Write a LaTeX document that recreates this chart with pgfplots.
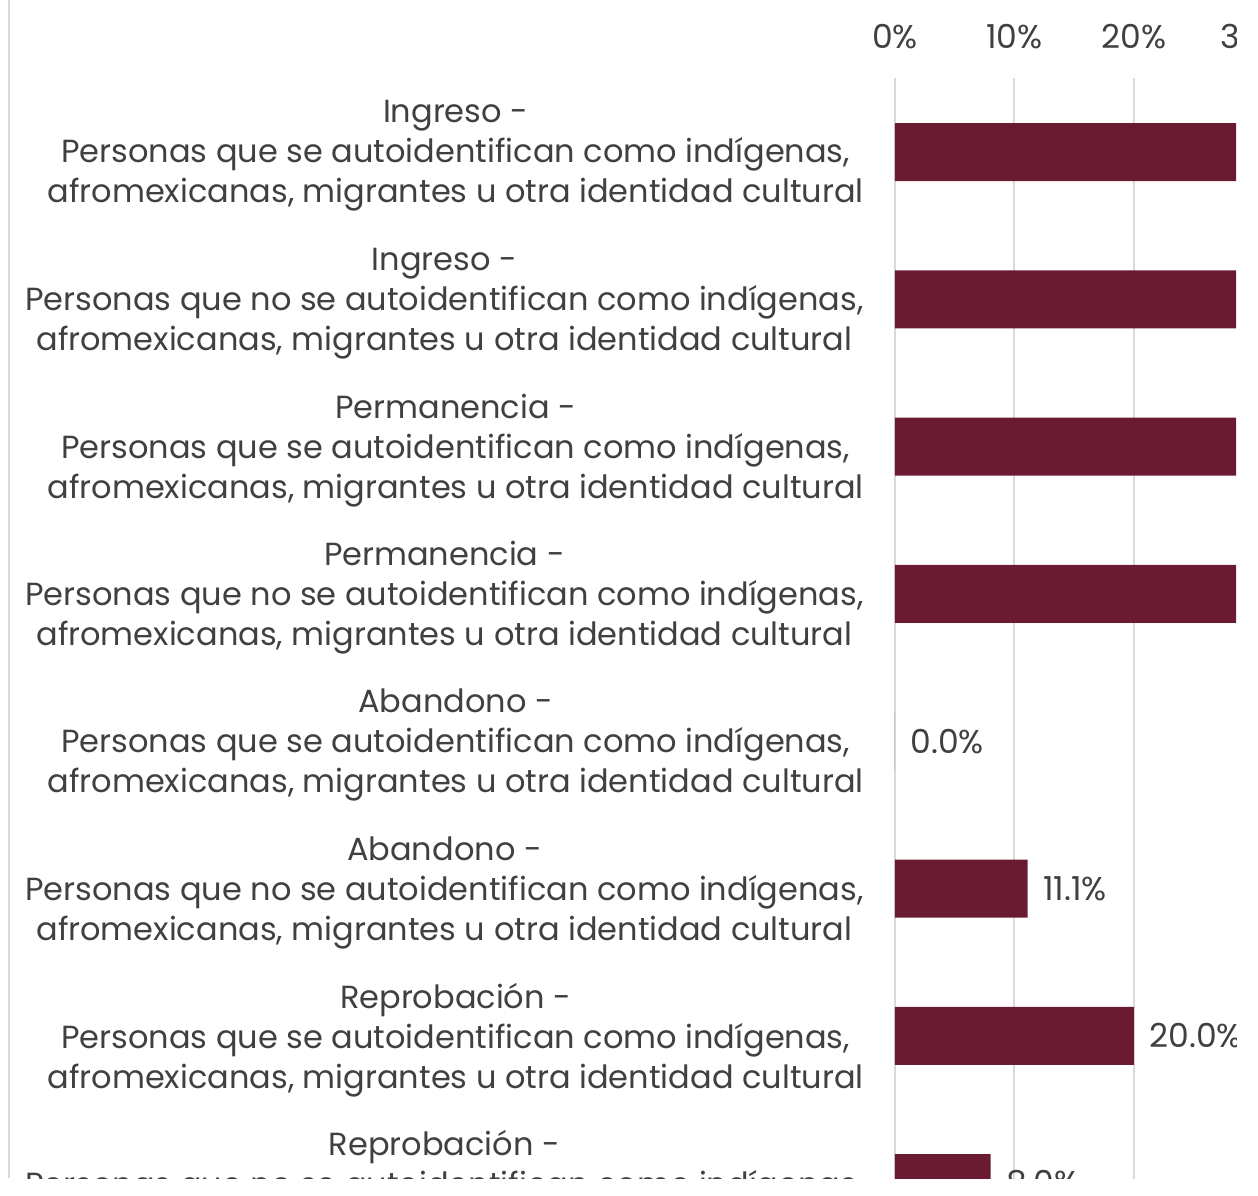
\documentclass[border=0pt]{standalone}
\usepackage{fontspec}
\setmainfont{Poppins}
\usepackage{pgfplots}
\pgfplotsset{compat=1.18}
\definecolor{barcol}{HTML}{6A1B32}
\definecolor{txt}{HTML}{404040}
\definecolor{gridc}{HTML}{D9D9D9}

\begin{document}
\begin{tikzpicture}
\useasboundingbox (0,0) rectangle (629pt,597.5pt);
\clip (0,8.5pt) rectangle (618pt,597.5pt);
\draw[gridc, line width=1.2pt] (4.5pt,8.5pt) -- (4.5pt,597.5pt);
\begin{axis}[
  at={(447.5pt,558.3pt)}, anchor=north west,
  scale only axis, width=179.25pt, height=589.2pt,
  xbar, bar width=29pt,
  xmin=0, xmax=30, ymin=-0.5, ymax=7.5,
  y dir=reverse,
  axis line style={draw=none},
  major tick length=0pt,
  xtick={0,10,20,30},
  xticklabel pos=upper,
  xticklabel={\pgfmathprintnumber{\tick}\%},
  xticklabel style={font=\fontsize{16.5}{19}\selectfont, text=txt, yshift=11pt},
  xmajorgrids, grid style={gridc, line width=1pt},
  ytick={0,...,7},
  yticklabels={
    {Ingreso -\\Personas que se autoidentifican como indígenas,\\afromexicanas, migrantes u otra identidad cultural},
    {Ingreso -\\Personas que no se autoidentifican como indígenas,\\afromexicanas, migrantes u otra identidad cultural},
    {Permanencia -\\Personas que se autoidentifican como indígenas,\\afromexicanas, migrantes u otra identidad cultural},
    {Permanencia -\\Personas que no se autoidentifican como indígenas,\\afromexicanas, migrantes u otra identidad cultural},
    {Abandono -\\Personas que se autoidentifican como indígenas,\\afromexicanas, migrantes u otra identidad cultural},
    {Abandono -\\Personas que no se autoidentifican como indígenas,\\afromexicanas, migrantes u otra identidad cultural},
    {Reprobación -\\Personas que se autoidentifican como indígenas,\\afromexicanas, migrantes u otra identidad cultural},
    {Reprobación -\\Personas que no se autoidentifican como indígenas,\\afromexicanas, migrantes u otra identidad cultural}},
  yticklabel style={align=center, font=\fontsize{16}{20}\selectfont, text=txt, inner sep=0pt, xshift=-15.5pt, yshift=-2pt},
  point meta=x,
  nodes near coords={\pgfmathprintnumber[fixed,fixed zerofill,precision=1]{\pgfplotspointmeta}\%},
  every node near coord/.append style={font=\fontsize{16.5}{19}\selectfont, text=txt, anchor=west, inner sep=0pt, xshift=7.5pt},
  /pgf/number format/assume math mode=true,
]
\addplot[fill=barcol, draw=none] coordinates {(100,0) (100,1) (100,2) (88.9,3) (0,4) (11.1,5) (20,6) (8,7)};
\end{axis}
\end{tikzpicture}
\end{document}
